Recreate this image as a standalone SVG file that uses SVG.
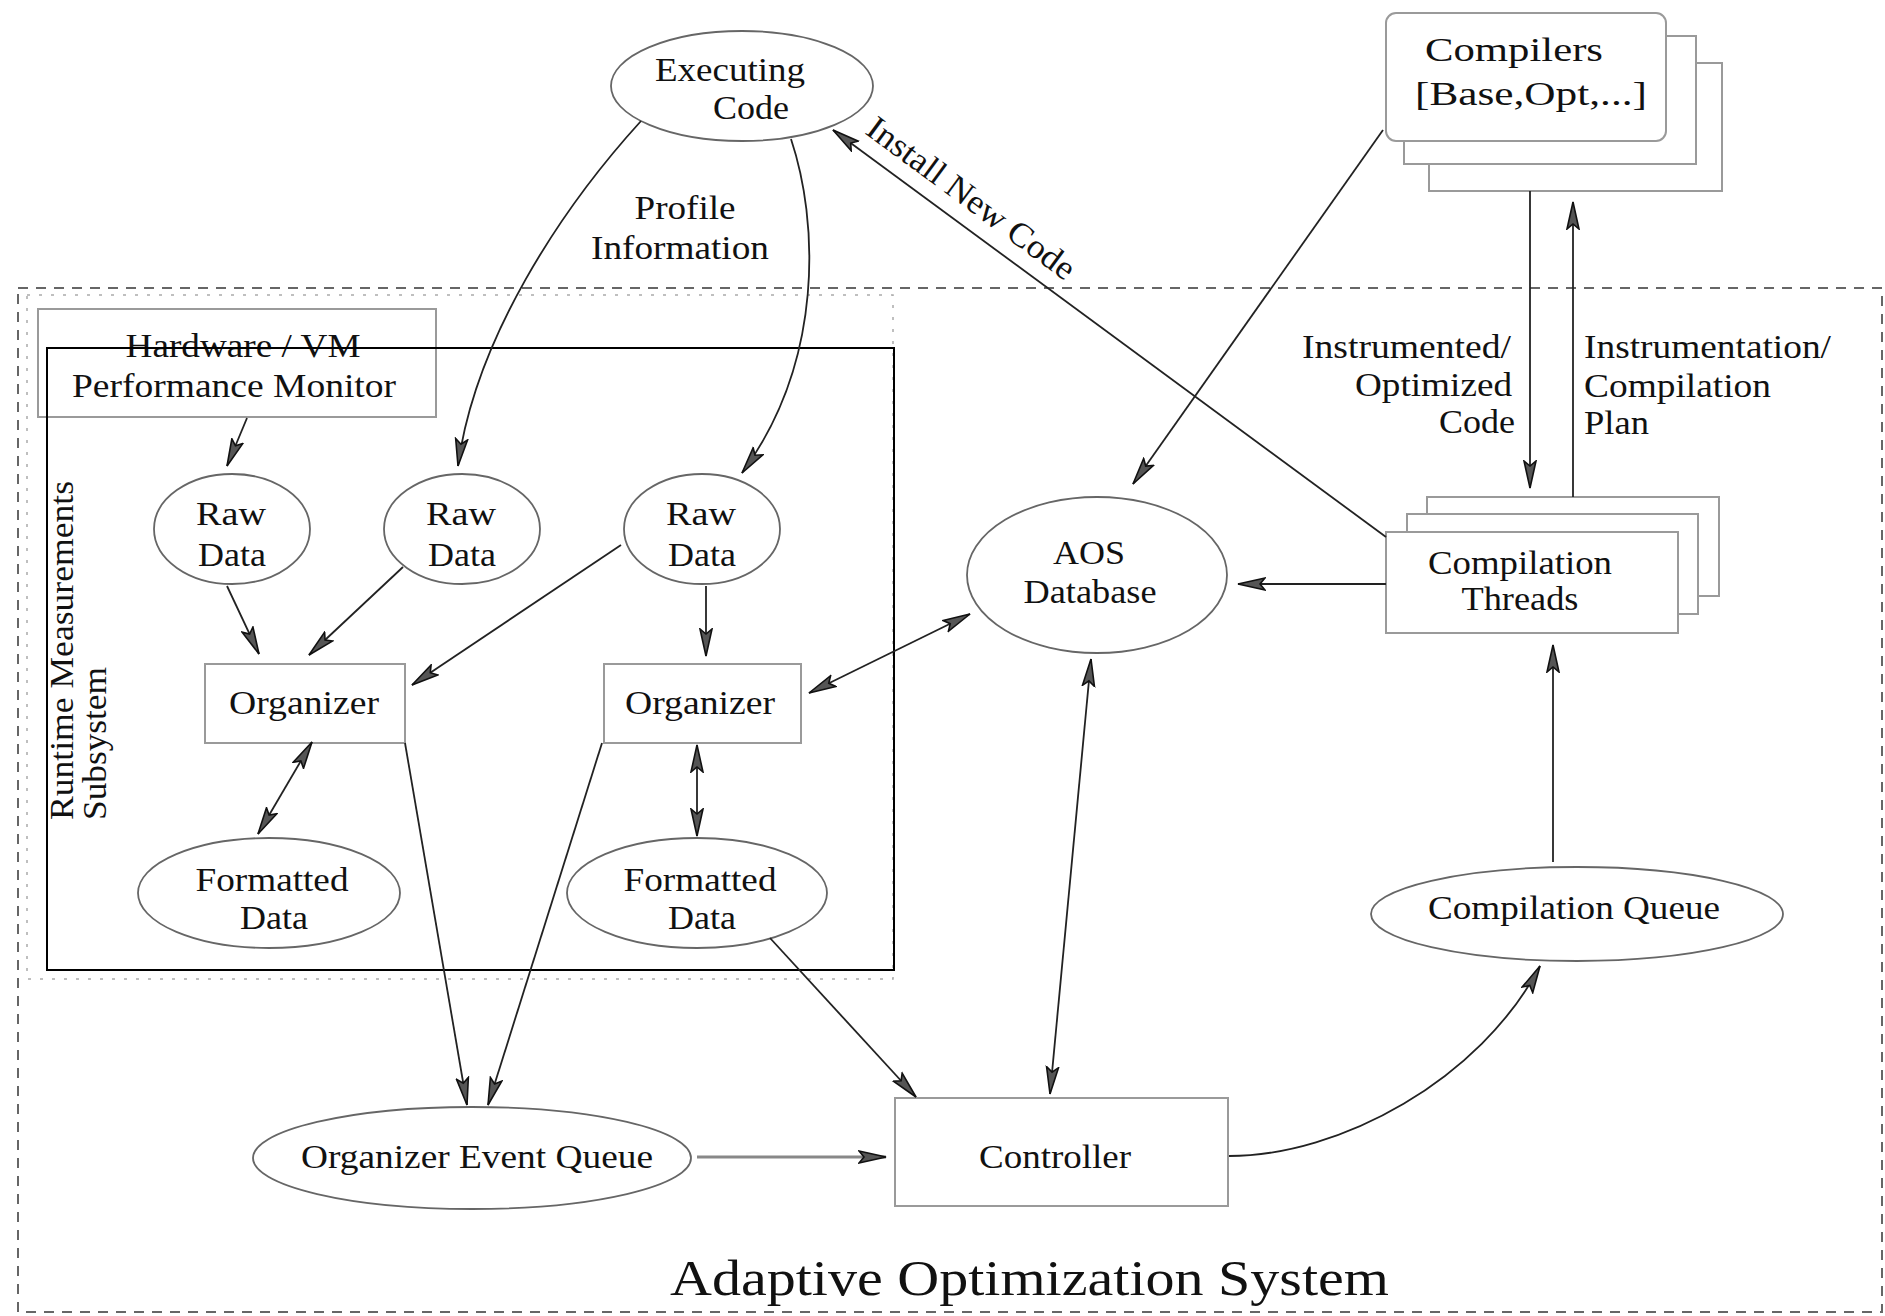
<svg xmlns="http://www.w3.org/2000/svg" width="1885" height="1316" viewBox="0 0 1885 1316">
<style>
.t{font-family:"Liberation Serif","Times New Roman",serif;font-size:34px;fill:#111;text-anchor:middle}
.box{fill:#fff;stroke:#9a9a9a;stroke-width:2}
.ell{fill:#fff;stroke:#666;stroke-width:1.8}
.c{fill:none;stroke:#222;stroke-width:1.8}
.ce{marker-end:url(#ah)}
.cb{marker-start:url(#ah);marker-end:url(#ah)}
</style>
<defs>
<marker id="ah" markerWidth="30" markerHeight="16" refX="28" refY="8" orient="auto-start-reverse" markerUnits="userSpaceOnUse">
<path d="M1,2 L28,8 L1,14 L6,8 Z" fill="#555" stroke="#111" stroke-width="1.6"/>
</marker>
</defs>
<rect x="0" y="0" width="1885" height="1316" fill="#fff"/>

<g id="aos-boundary">
<rect x="18" y="288" width="1864" height="1024" fill="none" stroke="#666" stroke-width="2" stroke-dasharray="10,8"/>
<text class="t" x="670" y="1295" style="font-size:50px;text-anchor:start" textLength="719" lengthAdjust="spacingAndGlyphs">Adaptive Optimization System</text>
</g>

<g id="rms-ruler">
<rect x="27" y="295" width="866" height="684" fill="none" stroke="#aaa" stroke-width="1.5" stroke-dasharray="3,9"/>
</g>

<g id="hw-monitor">
<rect class="box" x="38" y="309" width="398" height="108"/>
<text class="t" x="243" y="357" textLength="235" lengthAdjust="spacingAndGlyphs">Hardware / VM</text>
<text class="t" x="234" y="397" textLength="324" lengthAdjust="spacingAndGlyphs">Performance Monitor</text>
</g>

<g id="rms-subsystem">
<rect x="47" y="348" width="847" height="622" fill="none" stroke="#000" stroke-width="2"/>
<text class="t" transform="translate(73,820) rotate(-90)" style="text-anchor:start" textLength="339" lengthAdjust="spacingAndGlyphs">Runtime Measurements</text>
<text class="t" transform="translate(106,820) rotate(-90)" style="text-anchor:start" textLength="153" lengthAdjust="spacingAndGlyphs">Subsystem</text>
</g>

<g id="executing-code">
<ellipse class="ell" cx="742" cy="86" rx="131" ry="55"/>
<text class="t" x="730" y="81" textLength="150" lengthAdjust="spacingAndGlyphs">Executing</text>
<text class="t" x="751" y="119" textLength="76" lengthAdjust="spacingAndGlyphs">Code</text>
</g>

<g id="compilers">
<rect class="box" x="1429" y="63" width="293" height="128"/>
<rect class="box" x="1404" y="36" width="292" height="128"/>
<rect class="box" x="1386" y="13" width="280" height="128" rx="10"/>
<text class="t" x="1514" y="61" textLength="178" lengthAdjust="spacingAndGlyphs">Compilers</text>
<text class="t" x="1531" y="105" textLength="232" lengthAdjust="spacingAndGlyphs">[Base,Opt,...]</text>
</g>

<g id="raw-data-1">
<ellipse class="ell" cx="232" cy="529" rx="78" ry="55"/>
<text class="t" x="231" y="525" textLength="70" lengthAdjust="spacingAndGlyphs">Raw</text>
<text class="t" x="232" y="566" textLength="68" lengthAdjust="spacingAndGlyphs">Data</text>
</g>
<g id="raw-data-2">
<ellipse class="ell" cx="462" cy="529" rx="78" ry="55"/>
<text class="t" x="461" y="525" textLength="70" lengthAdjust="spacingAndGlyphs">Raw</text>
<text class="t" x="462" y="566" textLength="68" lengthAdjust="spacingAndGlyphs">Data</text>
</g>
<g id="raw-data-3">
<ellipse class="ell" cx="702" cy="529" rx="78" ry="55"/>
<text class="t" x="701" y="525" textLength="70" lengthAdjust="spacingAndGlyphs">Raw</text>
<text class="t" x="702" y="566" textLength="68" lengthAdjust="spacingAndGlyphs">Data</text>
</g>

<g id="organizer-1">
<rect class="box" x="205" y="664" width="200" height="79"/>
<text class="t" x="304" y="714" textLength="150" lengthAdjust="spacingAndGlyphs">Organizer</text>
</g>
<g id="organizer-2">
<rect class="box" x="604" y="664" width="197" height="79"/>
<text class="t" x="700" y="714" textLength="150" lengthAdjust="spacingAndGlyphs">Organizer</text>
</g>

<g id="formatted-data-1">
<ellipse class="ell" cx="269" cy="893" rx="131" ry="55"/>
<text class="t" x="272" y="891" textLength="153" lengthAdjust="spacingAndGlyphs">Formatted</text>
<text class="t" x="274" y="929" textLength="68" lengthAdjust="spacingAndGlyphs">Data</text>
</g>
<g id="formatted-data-2">
<ellipse class="ell" cx="697" cy="893" rx="130" ry="55"/>
<text class="t" x="700" y="891" textLength="153" lengthAdjust="spacingAndGlyphs">Formatted</text>
<text class="t" x="702" y="929" textLength="68" lengthAdjust="spacingAndGlyphs">Data</text>
</g>

<g id="organizer-event-queue">
<ellipse class="ell" cx="472" cy="1158" rx="219" ry="51"/>
<text class="t" x="477" y="1168" textLength="352" lengthAdjust="spacingAndGlyphs">Organizer Event Queue</text>
</g>

<g id="controller">
<rect class="box" x="895" y="1098" width="333" height="108"/>
<text class="t" x="1055" y="1168" textLength="152" lengthAdjust="spacingAndGlyphs">Controller</text>
</g>

<g id="aos-database">
<ellipse class="ell" cx="1097" cy="575" rx="130" ry="78"/>
<text class="t" x="1089" y="564" textLength="72" lengthAdjust="spacingAndGlyphs">AOS</text>
<text class="t" x="1090" y="603" textLength="133" lengthAdjust="spacingAndGlyphs">Database</text>
</g>

<g id="compilation-threads">
<rect class="box" x="1427" y="497" width="292" height="99"/>
<rect class="box" x="1407" y="514" width="291" height="100"/>
<rect class="box" x="1386" y="532" width="292" height="101"/>
<text class="t" x="1520" y="574" textLength="184" lengthAdjust="spacingAndGlyphs">Compilation</text>
<text class="t" x="1520" y="610" textLength="117" lengthAdjust="spacingAndGlyphs">Threads</text>
</g>

<g id="compilation-queue">
<ellipse class="ell" cx="1577" cy="914" rx="206" ry="47"/>
<text class="t" x="1574" y="919" textLength="292" lengthAdjust="spacingAndGlyphs">Compilation Queue</text>
</g>

<g id="connectors">
<path class="c ce" d="M641,121 C560,210 475,340 458,466"/>
<path class="c ce" d="M791,139 C818,220 825,360 742,473"/>
<path class="c ce" d="M247,418 L227,466"/>
<path class="c ce" d="M227,586 L259,654"/>
<path class="c ce" d="M403,567 L309,655"/>
<path class="c ce" d="M621,545 L412,685"/>
<path class="c ce" d="M706,586 L706,656"/>
<path class="c cb" d="M312,742 L258,834"/>
<path class="c cb" d="M697,745 L697,836"/>
<path class="c ce" d="M405,743 L467,1105"/>
<path class="c ce" d="M602,743 L488,1105"/>
<path class="c ce" d="M770,938 L916,1097"/>
<path class="c ce" d="M697,1157 L886,1157" style="stroke:#888;stroke-width:3"/>
<path class="c cb" d="M809,693 L970,614"/>
<path class="c cb" d="M1091,659 L1050,1094"/>
<path class="c ce" d="M1229,1156 C1340,1156 1480,1080 1540,966"/>
<path class="c ce" d="M1553,862 L1553,645"/>
<path class="c ce" d="M1386,584 L1238,584"/>
<path class="c ce" d="M1383,130 L1133,484"/>
<path class="c ce" d="M1386,537 L833,130"/>
<path class="c ce" d="M1530,191 L1530,488"/>
<path class="c ce" d="M1573,497 L1573,202"/>
<text class="t" x="685" y="219" textLength="101" lengthAdjust="spacingAndGlyphs">Profile</text>
<text class="t" x="680" y="259" textLength="178" lengthAdjust="spacingAndGlyphs">Information</text>
<text class="t" transform="translate(864,133) rotate(36.4)" style="text-anchor:start" textLength="250" lengthAdjust="spacingAndGlyphs">Install New Code</text>
<text class="t" x="1511" y="358" style="text-anchor:end" textLength="209" lengthAdjust="spacingAndGlyphs">Instrumented/</text>
<text class="t" x="1512" y="396" style="text-anchor:end" textLength="157" lengthAdjust="spacingAndGlyphs">Optimized</text>
<text class="t" x="1515" y="433" style="text-anchor:end" textLength="76" lengthAdjust="spacingAndGlyphs">Code</text>
<text class="t" x="1584" y="358" style="text-anchor:start" textLength="247" lengthAdjust="spacingAndGlyphs">Instrumentation/</text>
<text class="t" x="1584" y="397" style="text-anchor:start" textLength="187" lengthAdjust="spacingAndGlyphs">Compilation</text>
<text class="t" x="1584" y="434" style="text-anchor:start" textLength="65" lengthAdjust="spacingAndGlyphs">Plan</text>
</g>
</svg>
